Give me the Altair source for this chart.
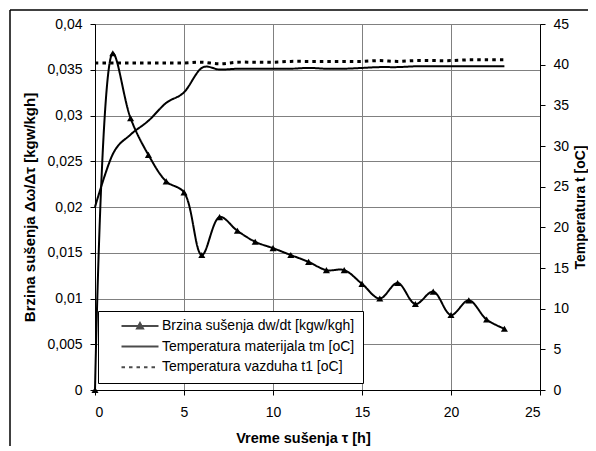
import altair as alt
import pandas as pd

S1 = "Brzina sušenja dw/dt [kgw/kgh]"
S2 = "Temperatura materijala tm [oC]"
S3 = "Temperatura vazduha t1 [oC]"
series_dom = [S1, S2, S3]

# drying rate (left axis)
rate_t = [0, 1, 2, 3, 4, 5, 6, 7, 8, 9, 10, 11, 12, 13, 14, 15, 16, 17, 18, 19, 20, 21, 22, 23]
rate_v = [0, 0.0368, 0.0297, 0.0257, 0.0228, 0.0216, 0.01475, 0.0189, 0.0174, 0.0162,
          0.0155, 0.01475, 0.0140, 0.0131, 0.0131, 0.0116, 0.0100, 0.0117, 0.0094, 0.01075,
          0.0082, 0.0098, 0.0077, 0.0067]

# temperatures (right axis)
temp_t = list(range(24))
temp_mat = [22.5, 29.0, 31.4, 33.1, 35.3, 36.6, 39.6, 39.4, 39.5, 39.5, 39.5, 39.5,
            39.6, 39.5, 39.5, 39.6, 39.7, 39.7, 39.8, 39.8, 39.8, 39.8, 39.8, 39.8]
temp_air = [40.2, 40.2, 40.2, 40.2, 40.2, 40.2, 40.3, 40.1, 40.3, 40.3, 40.3, 40.4,
            40.4, 40.4, 40.4, 40.4, 40.5, 40.4, 40.5, 40.5, 40.5, 40.6, 40.6, 40.6]

x_ticks = [0, 5, 10, 15, 20, 25]
left_ticks = [0, 0.005, 0.01, 0.015, 0.02, 0.025, 0.03, 0.035, 0.04]
right_ticks = [0, 5, 10, 15, 20, 25, 30, 35, 40, 45]

df_rate = pd.DataFrame({"t": rate_t, "v": rate_v, "series": S1})
df_mat = pd.DataFrame({"t": temp_t, "temp": temp_mat, "series": S2})
df_air = pd.DataFrame({"t": temp_t, "temp": temp_air, "series": S3})

FONT = "Liberation Sans"

x_enc = alt.X("t:Q", scale=alt.Scale(domain=[0, 25], nice=False),
              axis=alt.Axis(values=x_ticks, title="Vreme sušenja τ [h]", grid=True,
                            labelPadding=10, titlePadding=12, titleX=208))

LINE_PATH = "M-3.7,0H3.7"
TRI_PATH = ("M-3.7,0H3.7M-0.6,0.5L0,-0.6L0.6,0.5Z"
            "M-0.35,0.3L0.35,0.3M-0.2,0L0.2,0M0,-0.3L0,0.4")

legend = alt.Legend(
    title=None, orient="none", legendX=3, legendY=287,
    fillColor="white", strokeColor="black", padding=8,
    labelFontSize=14, labelFont=FONT, labelColor="black", labelLimit=0,
    symbolSize=100, symbolStrokeWidth=2,
    symbolStrokeColor="black",
    symbolOffset=27, labelOffset=15, rowPadding=6.6,
)
color_enc = alt.Color("series:N", scale=alt.Scale(domain=series_dom, range=["black"] * 3), legend=legend)
dash_enc = alt.StrokeDash("series:N", scale=alt.Scale(domain=series_dom, range=[[1, 0], [1, 0], [3.5, 4]]), legend=legend)
shape_enc = alt.Shape("series:N", scale=alt.Scale(domain=series_dom, range=[TRI_PATH, LINE_PATH, LINE_PATH]), legend=legend)

y_left = alt.Y("v:Q", scale=alt.Scale(domain=[0, 0.04], nice=False),
               axis=alt.Axis(orient="left", values=left_ticks, grid=True,
                             labelExpr="replace(format(datum.value, '~g'), '.', ',')",
                             title="Brzina sušenja  Δω/Δτ [kgw/kgh]", labelPadding=8, titlePadding=9,
                             titleFontSize=15))
y_right = alt.Y("temp:Q", scale=alt.Scale(domain=[0, 45], nice=False),
                axis=alt.Axis(orient="right", values=right_ticks, grid=False,
                              title="Temperatura t  [oC]", titleAngle=270, labelPadding=8,
                              titlePadding=19, titleFontSize=14))

rate_line = alt.Chart(df_rate).mark_line(interpolate="catmull-rom", strokeWidth=2).encode(
    x=x_enc, y=y_left, color=color_enc, strokeDash=dash_enc)
rate_pts = alt.Chart(df_rate).mark_point(
    shape="triangle-up", filled=True, size=50, color="black", opacity=1).encode(x=x_enc, y=y_left)
# legend-only layer (no rows survive the filter)
legend_ghost = alt.Chart(df_rate).transform_filter("datum.t < 0").mark_point(
    filled=False, size=100, strokeWidth=2).encode(
    x=x_enc, y=y_left, color=color_enc, strokeDash=dash_enc, shape=shape_enc)

mat_line = alt.Chart(df_mat).mark_line(interpolate="cardinal", strokeWidth=2).encode(
    x=x_enc, y=y_right, color=color_enc, strokeDash=dash_enc)
air_line = alt.Chart(df_air).mark_line(interpolate="cardinal", strokeWidth=3, strokeCap="butt").encode(
    x=x_enc, y=y_right, color=color_enc, strokeDash=dash_enc)

frame_df = pd.DataFrame({"a": [0]})
frame_left = alt.Chart(frame_df).mark_rule(color="black", strokeWidth=1.5).encode(
    x=alt.value(-85), y=alt.value(-14), y2=alt.value(440))
frame_top = alt.Chart(frame_df).mark_rule(color="black", strokeWidth=1.5).encode(
    x=alt.value(-85), x2=alt.value(510), y=alt.value(-14))

chart = alt.layer(
    alt.layer(rate_line, rate_pts, legend_ghost),
    alt.layer(mat_line, air_line),
    frame_left, frame_top,
).resolve_scale(y="independent").properties(
    width=445, height=366,
    autosize=alt.AutoSizeParams(type="none"),
    padding={"left": 87, "top": 16, "right": 48, "bottom": 56},
).configure_view(stroke="#808080", strokeWidth=1).configure_axis(
    domainColor="black", tickColor="black", tickSize=5,
    labelFont=FONT, labelFontSize=14, labelColor="black",
    titleFont=FONT, titleFontSize=14.5, titleFontWeight="bold", titleColor="black",
    gridColor="#808080", gridWidth=1,
)

chart.save("out.html", embed_options={"renderer": "svg", "actions": False})
